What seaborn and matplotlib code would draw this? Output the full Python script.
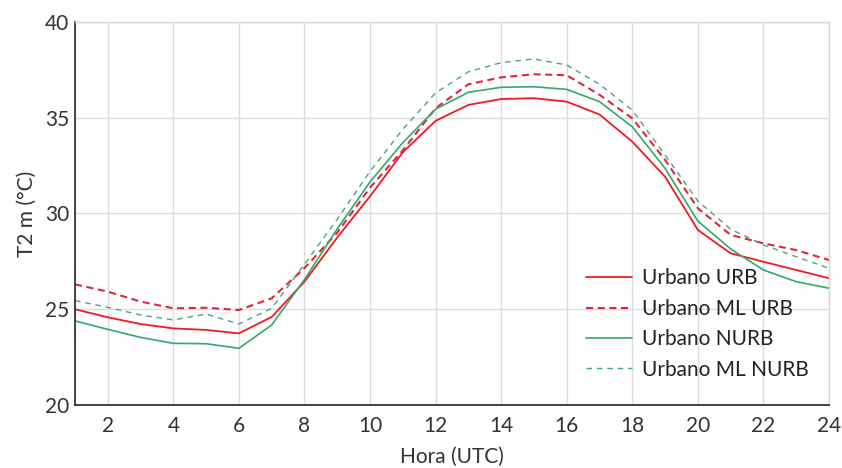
import matplotlib
matplotlib.use("Agg")
import matplotlib.pyplot as plt
import seaborn as sns
import pandas as pd

hours = list(range(1, 25))
urb = [25.0, 24.58, 24.23, 24.0, 23.92, 23.74, 24.6, 26.44, 28.75, 30.9, 33.2, 34.84,
       35.67, 35.98, 36.02, 35.84, 35.17, 33.75, 31.92, 29.14, 27.92, 27.48, 27.05, 26.62]
ml_urb = [26.3, 25.92, 25.4, 25.05, 25.08, 24.96, 25.57, 27.15, 29.0, 31.35, 33.3, 35.5,
          36.75, 37.11, 37.27, 37.22, 36.2, 34.97, 32.8, 30.27, 28.88, 28.44, 28.09, 27.57]
nurb = [24.39, 23.95, 23.53, 23.22, 23.2, 22.96, 24.18, 26.55, 29.2, 31.65, 33.7, 35.45,
        36.33, 36.59, 36.62, 36.48, 35.84, 34.53, 32.36, 29.6, 28.15, 27.05, 26.44, 26.1]
ml_nurb = [25.45, 25.1, 24.7, 24.44, 24.75, 24.23, 25.05, 27.35, 29.7, 32.2, 34.4, 36.3,
           37.4, 37.88, 38.07, 37.75, 36.75, 35.4, 33.05, 30.65, 29.18, 28.36, 27.74, 27.14]
labels = ["Urbano URB", "Urbano ML URB", "Urbano NURB", "Urbano ML NURB"]
xticks = list(range(2, 25, 2))
yticks = [20, 25, 30, 35, 40]

sns.set_style("white")
plt.rcParams['font.family'] = ['Lato', 'DejaVu Sans']

fig = plt.figure(figsize=(8.42, 4.68), dpi=100)
ax = fig.add_axes([75/842, 1-405/468, (829-75)/842, (405-22)/468])

series = [urb, ml_urb, nurb, ml_nurb]
colors = ["#f01a22", "#e0263e", "#35a86a", "#4aa386"]
styles = ["-", (0, (3.4, 2.2)), "-", (0, (4, 3.5))]
widths = [1.3, 1.5, 1.2, 1.0]
for lab, vals, c, ls, lw in zip(labels, series, colors, styles, widths):
    df = pd.DataFrame({"Hora": hours, "T2": vals})
    sns.lineplot(data=df, x="Hora", y="T2", ax=ax, color=c, linestyle=ls,
                 linewidth=lw, label=lab)

ax.set_xlim(1, 24)
ax.set_ylim(20, 40)
ax.set_xticks(xticks)
ax.set_yticks(yticks)
ax.set_yticks(range(20, 41), minor=True)
ax.grid(True, which="major", color="#dcdcdc", linewidth=1.0)
ax.set_axisbelow(True)
ax.tick_params(axis="both", which="major", direction="in", length=5.5, width=1.0,
               labelsize=15, colors="#333333", labelcolor="#333333")
ax.tick_params(axis="x", which="major", top=False, pad=8)
ax.tick_params(axis="y", which="major", right=False, pad=4)
ax.tick_params(axis="y", which="minor", direction="in", length=4, width=1.0, colors="#333333", right=False)
for s in ["left", "bottom"]:
    ax.spines[s].set_color("#333333")
    ax.spines[s].set_linewidth(1.3)
for s in ["top", "right"]:
    ax.spines[s].set_color("#d6d6d6")
    ax.spines[s].set_linewidth(1.0)

ax.set_xlabel("Hora (UTC)", fontsize=15, color="#333333", labelpad=7.5)
ax.set_ylabel("T2 m (°C)", fontsize=15, color="#333333", labelpad=6)

leg = ax.legend(loc="lower right", frameon=False, fontsize=15, handlelength=2.2,
                handletextpad=0.48, labelspacing=0.5, borderaxespad=0.3,
                bbox_to_anchor=(0.992, 0.028))
for t in leg.get_texts():
    t.set_color("#222222")

fig.savefig("out.png", dpi=100)
